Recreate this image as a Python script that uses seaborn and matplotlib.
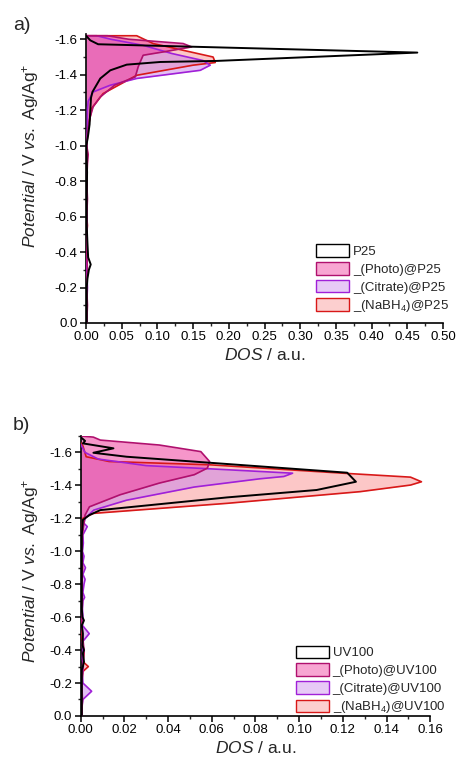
import numpy as np
import pandas as pd
import matplotlib
matplotlib.use("Agg")
import matplotlib.pyplot as plt
from matplotlib.patches import Patch
from matplotlib.ticker import MultipleLocator, FormatStrFormatter
import seaborn as sns

# ---------------- data: panel a (P25) ----------------
p25_pot = [0.0, -0.1, -0.2, -0.25, -0.3, -0.33, -0.37, -0.45, -0.55, -0.7, -0.85, -1.0, -1.06,
           -1.12, -1.2, -1.27, -1.303, -1.379, -1.425, -1.457, -1.472, -1.478, -1.525, -1.572,
           -1.594, -1.62]
p25_dos = [0.001, 0.001, 0.001, 0.002, 0.004, 0.0066, 0.003, 0.002, 0.001, 0.001, 0.0015, 0.0005,
           0.003, 0.005, 0.006, 0.007, 0.009, 0.02, 0.034, 0.057, 0.104, 0.183, 0.464, 0.017,
           0.006, 0.0]

photo_a_pot = [0.0, -0.1, -0.2, -0.3, -0.4, -0.5, -0.6, -0.7, -0.8, -0.9, -0.95, -1.0, -1.1, -1.15,
               -1.22, -1.275, -1.341, -1.388, -1.444, -1.473, -1.51, -1.53, -1.557, -1.576, -1.6,
               -1.62, -1.62]
photo_a_dos = [0.001, 0.002, 0.001, 0.002, 0.001, 0.001, 0.001, 0.002, 0.001, 0.002, 0.003, 0.001,
               0.003, 0.005, 0.01, 0.02, 0.04, 0.069, 0.073, 0.076, 0.08, 0.11, 0.148, 0.136, 0.06,
               0.03, 0.0]

citrate_a_pot = [0.0, -0.1, -0.2, -0.3, -0.4, -0.5, -0.6, -0.7, -0.8, -0.9, -1.0, -1.1, -1.2, -1.25,
                 -1.303, -1.341, -1.379, -1.425, -1.454, -1.48, -1.52, -1.566, -1.6, -1.62, -1.62]
citrate_a_dos = [0.001, 0.001, 0.002, 0.001, 0.001, 0.001, 0.001, 0.001, 0.001, 0.001, 0.001, 0.002,
                 0.002, 0.003, 0.01, 0.034, 0.071, 0.16, 0.174, 0.164, 0.12, 0.08, 0.035, 0.015, 0.0]

nabh4_a_pot = [0.0, -0.1, -0.2, -0.3, -0.4, -0.5, -0.55, -0.6, -0.7, -0.8, -0.9, -0.95, -1.0, -1.1,
               -1.211, -1.294, -1.397, -1.454, -1.469, -1.50, -1.576, -1.62, -1.62]
nabh4_a_dos = [0.001, 0.001, 0.001, 0.001, 0.001, 0.001, 0.002, 0.001, 0.001, 0.001, 0.001, 0.002,
               0.001, 0.003, 0.008, 0.024, 0.071, 0.15, 0.181, 0.178, 0.094, 0.071, 0.0]

# ---------------- data: panel b (UV100) ----------------
uv_pot = [0.0, -0.1, -0.2, -0.28, -0.3, -0.33, -0.38, -0.4, -0.43, -0.5, -0.55, -0.58, -0.6, -0.65,
          -0.7, -0.8, -0.9, -1.0, -1.1, -1.19, -1.22, -1.25, -1.327, -1.372, -1.422, -1.477, -1.574,
          -1.598, -1.625, -1.655, -1.67, -1.693]
uv_dos = [0.0005, 0.0005, 0.0005, 0.0005, 0.001, 0.0015, 0.001, 0.0015, 0.0008, 0.001, 0.0005,
          0.0015, 0.0008, 0.0005, 0.0005, 0.0005, 0.0005, 0.0005, 0.0005, 0.001, 0.004, 0.009, 0.067,
          0.108, 0.126, 0.122, 0.021, 0.0058, 0.015, 0.001, 0.002, 0.0]

photo_b_pot = [0.0, -0.1, -0.2, -0.3, -0.4, -0.5, -0.6, -0.7, -0.8, -0.9, -1.0, -1.1, -1.22, -1.27,
               -1.343, -1.414, -1.465, -1.505, -1.545, -1.605, -1.645, -1.675, -1.693, -1.70]
photo_b_dos = [0.0005, 0.0008, 0.0005, 0.001, 0.0015, 0.0008, 0.0005, 0.0008, 0.0005, 0.0008, 0.0005,
               0.0008, 0.002, 0.004, 0.018, 0.036, 0.052, 0.058, 0.059, 0.055, 0.036, 0.009, 0.0058,
               0.0]

citrate_b_pot = [0.0, -0.05, -0.1, -0.15, -0.2, -0.25, -0.3, -0.35, -0.4, -0.45, -0.5, -0.55, -0.6,
                 -0.65, -0.7, -0.72, -0.75, -0.8, -0.83, -0.86, -0.9, -0.93, -0.97, -1.0, -1.05, -1.1,
                 -1.15, -1.17, -1.2, -1.25, -1.31, -1.39, -1.44, -1.454, -1.474, -1.5, -1.52, -1.56,
                 -1.6, -1.65]
citrate_b_dos = [0.0005, 0.0005, 0.001, 0.005, 0.001, 0.0008, 0.0012, 0.0008, 0.001, 0.0008, 0.0039,
                 0.0008, 0.001, 0.0008, 0.001, 0.0018, 0.001, 0.0015, 0.002, 0.001, 0.0022, 0.001,
                 0.0015, 0.0008, 0.0012, 0.001, 0.003, 0.0015, 0.002, 0.006, 0.021, 0.052, 0.082,
                 0.093, 0.097, 0.06, 0.03, 0.008, 0.002, 0.0]

nabh4_b_pot = [0.0, -0.1, -0.2, -0.27, -0.3, -0.33, -0.38, -0.4, -0.5, -0.6, -0.7, -0.8, -0.9, -1.0,
               -1.1, -1.2, -1.23, -1.291, -1.362, -1.402, -1.422, -1.45, -1.474, -1.525, -1.545,
               -1.574, -1.64, -1.66]
nabh4_b_dos = [0.0005, 0.0005, 0.0005, 0.001, 0.0035, 0.001, 0.0015, 0.001, 0.0005, 0.0005, 0.0005,
               0.0005, 0.0008, 0.0005, 0.0005, 0.001, 0.0058, 0.067, 0.128, 0.151, 0.156, 0.151, 0.12,
               0.059, 0.013, 0.0025, 0.001, 0.0]

labels_a = ["P25", "_(Photo)@P25", "_(Citrate)@P25", "_(NaBH$_4$)@P25"]
labels_b = ["UV100", "_(Photo)@UV100", "_(Citrate)@UV100", "_(NaBH$_4$)@UV100"]

# ---------------- style ----------------
sns.set_style("ticks")
plt.rcParams["font.family"] = ["Liberation Sans", "DejaVu Sans"]
plt.rcParams["mathtext.fontset"] = "custom"
plt.rcParams["mathtext.rm"] = "Liberation Sans"
plt.rcParams["mathtext.it"] = "Liberation Sans:italic"
plt.rcParams["mathtext.bf"] = "Liberation Sans:bold"
plt.rcParams["axes.unicode_minus"] = False

# (edge colour, face colour, face alpha)
styles = {
    "ref": ("#000000", "white", 0.0),
    "photo": ("#b0106e", "#f0409f", 0.55),
    "citrate": ("#a020d8", "#c880ea", 0.5),
    "nabh4": ("#d81818", "#fa9a9a", 0.55),
}

fig = plt.figure(figsize=(4.58, 7.65), dpi=100)
ax_a = fig.add_axes([0.1878, 0.5778, 0.7795, 0.3778])
ax_b = fig.add_axes([0.1762, 0.0641, 0.7631, 0.3660])


def draw_panel(ax, series, labels, xmax, xmajor, ylim_top, legend_anchor, ylab_xy):
    order = ["nabh4", "citrate", "photo"]
    for key in order:
        pot, dos = series[key]
        edge, face, alpha = styles[key]
        ax.fill_betweenx(pot, 0, dos, facecolor=face, alpha=alpha, linewidth=0, zorder=2)
    for key in order + ["ref"]:
        pot, dos = series[key]
        edge, face, alpha = styles[key]
        df = pd.DataFrame({"pot": pot, "dos": dos})
        sns.lineplot(data=df, x="dos", y="pot", orient="y", sort=False, estimator=None,
                     color=edge, linewidth=1.4 if key == "ref" else 1.2, ax=ax,
                     zorder=4 if key == "ref" else 3)
    ax.set_xlim(0, xmax)
    ax.set_ylim(0, ylim_top)
    ax.xaxis.set_major_locator(MultipleLocator(xmajor))
    ax.xaxis.set_minor_locator(MultipleLocator(xmajor / 2))
    ax.yaxis.set_major_locator(MultipleLocator(0.2))
    ax.yaxis.set_minor_locator(MultipleLocator(0.1))
    ax.xaxis.set_major_formatter(FormatStrFormatter("%.2f"))
    ax.yaxis.set_major_formatter(FormatStrFormatter("%.1f"))
    ax.tick_params(which="major", direction="out", length=4, width=1.1, labelsize=9.5,
                   colors="#000000", pad=2)
    ax.tick_params(which="minor", direction="out", length=2.5, width=1.0)
    sns.despine(ax=ax)
    for sp in ["left", "bottom"]:
        ax.spines[sp].set_linewidth(1.2)
        ax.spines[sp].set_color("black")
    ax.set_xlabel(r"$\mathit{DOS}$ / a.u.", fontsize=12.5, labelpad=3)
    ax.set_ylabel(r"$\mathit{Potential}$ / V $\mathit{vs.}$ Ag/Ag$^{+}$", fontsize=12.5)
    ax.yaxis.set_label_coords(*ylab_xy)
    handles = []
    for key in ["ref", "photo", "citrate", "nabh4"]:
        edge, face, alpha = styles[key]
        if key == "ref":
            handles.append(Patch(facecolor="white", edgecolor="black", linewidth=1.0))
        else:
            handles.append(Patch(facecolor=matplotlib.colors.to_rgba(face, alpha * 0.85),
                                 edgecolor=edge, linewidth=1.0))
    leg = ax.legend(handles, ["L%d" % i for i in range(4)], loc="upper left",
                    bbox_to_anchor=legend_anchor, frameon=False, fontsize=9.5,
                    handlelength=2.5, handleheight=1.05, handletextpad=0.3,
                    labelspacing=0.32, borderaxespad=0)
    for t, lab in zip(leg.get_texts(), labels):
        t.set_text(lab)


series_a = {
    "ref": (p25_pot, p25_dos),
    "photo": (photo_a_pot, photo_a_dos),
    "citrate": (citrate_a_pot, citrate_a_dos),
    "nabh4": (nabh4_a_pot, nabh4_a_dos),
}
series_b = {
    "ref": (uv_pot, uv_dos),
    "photo": (photo_b_pot, photo_b_dos),
    "citrate": (citrate_b_pot, citrate_b_dos),
    "nabh4": (nabh4_b_pot, nabh4_b_dos),
}

draw_panel(ax_a, series_a, labels_a, 0.5, 0.05, -1.63, (0.63, 0.29), (-0.125, 0.58))
draw_panel(ax_b, series_b, labels_b, 0.16, 0.02, -1.70, (0.60, 0.27), (-0.113, 0.52))

fig.text(22 / 458, 1 - 25 / 765, "a)", fontsize=14, ha="center", va="center")
fig.text(21 / 458, 1 - 426 / 765, "b)", fontsize=14, ha="center", va="center")

fig.savefig("out.png", dpi=100)
